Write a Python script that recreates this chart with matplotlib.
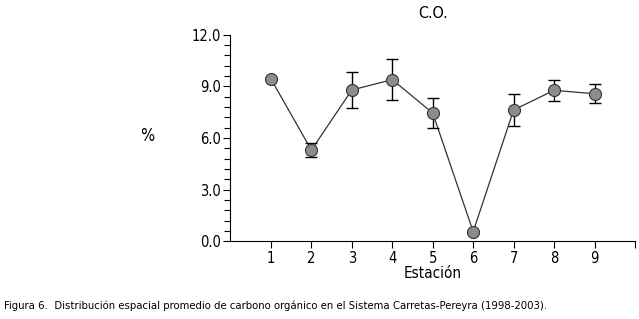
import matplotlib
matplotlib.use("Agg")
import matplotlib.pyplot as plt
from matplotlib.ticker import MultipleLocator

plt.rcParams['font.family'] = ['DejaVu Sans']
plt.rcParams['font.stretch'] = 'condensed'

estaciones = [1, 2, 3, 4, 5, 6, 7, 8, 9]
carbono = [9.43, 5.30, 8.79, 9.39, 7.45, 0.56, 7.63, 8.77, 8.57]
error = [0.0, 0.40, 1.03, 1.19, 0.87, 0.0, 0.93, 0.61, 0.54]
yticks = [0.0, 3.0, 6.0, 9.0, 12.0]

fig = plt.figure(figsize=(6.39, 3.19), dpi=100)
ax = fig.add_axes([0.3607, 0.2436, 0.6330, 0.6476])

ax.plot(estaciones, carbono, color='#333333', lw=0.9, zorder=2)
ax.errorbar(estaciones, carbono, yerr=error, fmt='none', ecolor='black',
            elinewidth=1.0, capsize=4, capthick=1.0, zorder=3)
ax.scatter(estaciones, carbono, s=75, color='#8c8c8c', edgecolors='#333333',
           linewidths=0.8, zorder=4)

ax.set_xlim(0, 10)
ax.set_ylim(0, 12)
ax.set_xticks(range(1, 11))
ax.set_xticklabels([str(i) for i in estaciones] + [''])
ax.set_yticks(yticks)
ax.set_yticklabels([f'{v:.1f}' for v in yticks])
ax.yaxis.set_minor_locator(MultipleLocator(0.6))
ax.tick_params(axis='both', labelsize=10.5, direction='out', length=5, width=0.8, pad=2)
ax.tick_params(axis='y', which='minor', length=4, width=0.8)

for s in ['top', 'right']:
    ax.spines[s].set_visible(False)
ax.spines['left'].set_linewidth(0.8)
ax.spines['bottom'].set_linewidth(0.8)

ax.set_title('C.O.', fontsize=11.5, pad=12)
ax.set_xlabel('Estación', fontsize=11, labelpad=0)
fig.text(147 / 639, 1 - 136 / 319, '%', fontsize=12, ha='center', va='center')
fig.text(4 / 639, 1 - 306 / 319,
         'Figura 6.  Distribución espacial promedio de carbono orgánico en el Sistema Carretas-Pereyra (1998-2003).',
         fontsize=8.1, ha='left', va='center')

fig.savefig('out.png', dpi=100)
